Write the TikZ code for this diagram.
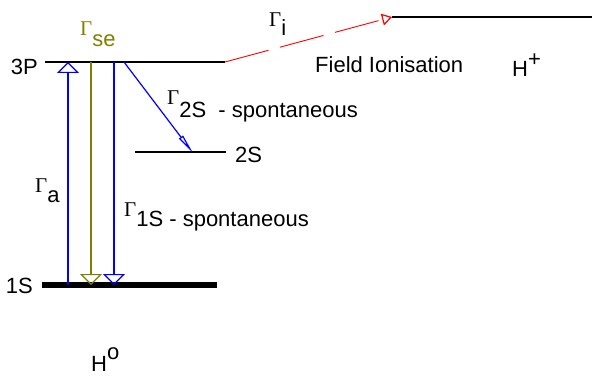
\documentclass[tikz,border=0pt]{standalone}
\usepackage{fontspec}
\setmainfont{Liberation Sans}
\newfontfamily\greekfont{Liberation Serif}
\usetikzlibrary{arrows.meta}

\definecolor{levelolive}{RGB}{128,128,0}

\tikzset{
  level/.style={line width=1.4pt},
  groundlevel/.style={line width=6pt},
  lbl/.style={font=\fontsize{22}{26}\selectfont, inner sep=0pt},
  openhead/.style={-{Triangle[open, length=11pt, width=22pt, line width=1.2pt]}},
}
\newcommand{\ratesym}[2]{{\greekfont\fontsize{21}{24}\selectfont Γ}\raisebox{-#1}{#2}}

\begin{document}
\begin{tikzpicture}[x=1pt, y=-1pt]
      \useasboundingbox (0,0) rectangle (592,377);

      % levels
      \coordinate (P3a) at (45,62);
      \coordinate (P3b) at (225,62);
      \coordinate (Ia) at (392,17);
      \coordinate (Ib) at (592,17);
      \coordinate (S2a) at (135,152);
      \coordinate (S2b) at (226,152);
      \coordinate (S1a) at (42,285);
      \coordinate (S1b) at (217,285);

      \draw[level] (P3a) -- (P3b);
      \draw[level] (Ia) -- (Ib);
      \draw[level] (S2a) -- (S2b);
      \draw[groundlevel] (S1a) -- (S1b);

      % transitions
      \coordinate (Aup0) at (68,285);
      \coordinate (Aup1) at (68,62);
      \coordinate (Se0) at (91,62);
      \coordinate (Se1) at (91,285);
      \coordinate (Sp0) at (114,62);
      \coordinate (Sp1) at (114,285);
      \coordinate (Tw0) at (124,62);
      \coordinate (Tw1) at (193,153);

      \draw[blue, line width=1.2pt, openhead] (Aup0) -- (Aup1);
      \draw[levelolive, line width=1.2pt, openhead] (Se0) -- (Se1);
      \draw[blue, line width=1.2pt, openhead] (Sp0) -- (Sp1);
      \draw[blue, line width=1.2pt, -{Triangle[open, length=20pt, width=5pt, line width=1.2pt]}] (Tw0) -- (Tw1);
      \draw[red, line width=0.9pt, dash pattern=on 45pt off 12pt,
        -{Triangle[open, length=10pt, width=12pt, line width=1.2pt]}] (P3b) -- (Ia);

      % labels
      \node[lbl, anchor=base east] (l3p) at (38,75) {3P};
      \node[lbl, anchor=base west] (l2s) at (235,163) {2S};
      \node[lbl, anchor=base east] (l1s) at (33,293) {1S};
      \node[lbl, anchor=base west, text=levelolive] (gse) at (80,36) {\ratesym{11pt}{se}};
      \node[lbl, anchor=base west] (gi) at (269,27) {\ratesym{9pt}{i}};
      \node[lbl, anchor=base west] (g2s) at (167,105) {\ratesym{13pt}{2S\ \ - spontaneous}};
      \node[lbl, anchor=base west] (g1s) at (124,216) {\ratesym{10pt}{1S - spontaneous}};
      \node[lbl, anchor=base west] (ga) at (35,193) {\ratesym{10pt}{a}};
      \node[lbl, anchor=base west] (fion) at (315,73) {Field Ionisation};
      \node[lbl, anchor=base west] (hplus) at (512,77) {H\raisebox{10pt}{+}};
      \node[lbl, anchor=base west] (hzero) at (91,371) {H\raisebox{12pt}{o}};
    \end{tikzpicture}
\end{document}
